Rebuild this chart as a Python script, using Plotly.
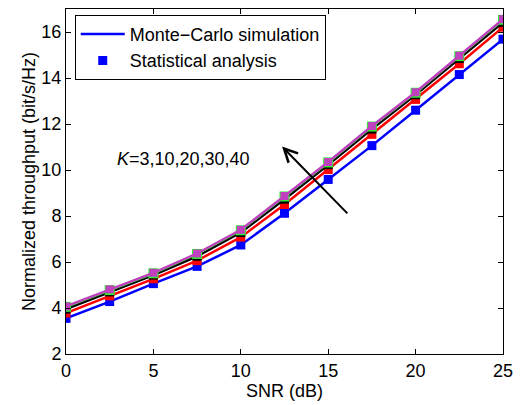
import plotly.graph_objects as go

snr = [0, 2.5, 5, 7.5, 10, 12.5, 15, 17.5, 20, 22.5, 25]
k_labels = ["K=3", "K=10", "K=20", "K=30", "K=40"]
thr_k3 = [3.55, 4.28, 5.06, 5.81, 6.74, 8.12, 9.59, 11.06, 12.60, 14.15, 15.69]
thr_k10 = [3.78, 4.53, 5.27, 6.06, 7.08, 8.50, 10.02, 11.55, 13.07, 14.62, 16.21]
thr_k20 = [3.95, 4.70, 5.43, 6.25, 7.28, 8.73, 10.23, 11.78, 13.27, 14.85, 16.42]
thr_k30 = [4.05, 4.78, 5.51, 6.35, 7.38, 8.85, 10.33, 11.89, 13.36, 14.95, 16.53]
thr_k40 = [4.07, 4.81, 5.53, 6.37, 7.40, 8.87, 10.35, 11.91, 13.38, 14.97, 16.56]

series = [thr_k3, thr_k10, thr_k20, thr_k30, thr_k40]
colors = ["#0000FF", "#FF0000", "#000000", "#33EE33", "#C040C0"]
msizes = [9, 9, 9, 10, 8]

fig = go.Figure()
for lab, vals, c, ms in zip(k_labels, series, colors, msizes):
    fig.add_trace(go.Scatter(
        x=snr, y=vals, mode="lines+markers", name=lab, showlegend=False,
        line=dict(color=c, width=2.5),
        marker=dict(symbol="square", size=ms, color=c, line=dict(width=0)),
    ))

# legend entries
fig.add_trace(go.Scatter(x=[None], y=[None], mode="lines", name="Monte\u2212Carlo simulation",
                         line=dict(color="#0000FF", width=2.5)))
fig.add_trace(go.Scatter(x=[None], y=[None], mode="markers", name="Statistical analysis",
                         marker=dict(symbol="square", size=9, color="#0000FF")))

fig.add_annotation(x=12.36, y=11.02, ax=16.18, ay=8.05, xref="x", yref="y", axref="x", ayref="y",
                   showarrow=True, arrowhead=5, arrowsize=1.3, arrowwidth=2, arrowcolor="black", text="")
fig.add_annotation(x=2.82, y=10.49, xref="x", yref="y", xanchor="left", yanchor="middle",
                   showarrow=False, text="<i>K</i>=3,10,20,30,40",
                   font=dict(size=18, color="black", family="Liberation Sans, Arial"))

axis_common = dict(showline=True, linecolor="black", linewidth=1, mirror="ticks", ticks="inside",
                   ticklen=5, tickcolor="black", showgrid=False, zeroline=False,
                   tickfont=dict(size=18, color="black"))
fig.update_xaxes(range=[0, 25], tickvals=[0, 5, 10, 15, 20, 25],
                 title=dict(text="SNR (dB)", standoff=4, font=dict(size=18)), **axis_common)
fig.update_yaxes(range=[2, 17], tickvals=[2, 4, 6, 8, 10, 12, 14, 16],
                 title=dict(text="Normalized throughput (bit/s/Hz)", standoff=1, font=dict(size=18)), **axis_common)

fig.update_layout(
    width=521, height=405,
    margin=dict(l=66, r=12, t=8, b=49),
    plot_bgcolor="white", paper_bgcolor="white",
    font=dict(family="Liberation Sans, Arial", size=18, color="black"),
    legend=dict(x=0.02, y=0.983, xanchor="left", yanchor="top", bgcolor="white",
                bordercolor="black", borderwidth=1, font=dict(size=18), tracegroupgap=0,
                itemwidth=44),
)

fig.write_html("out.html")
